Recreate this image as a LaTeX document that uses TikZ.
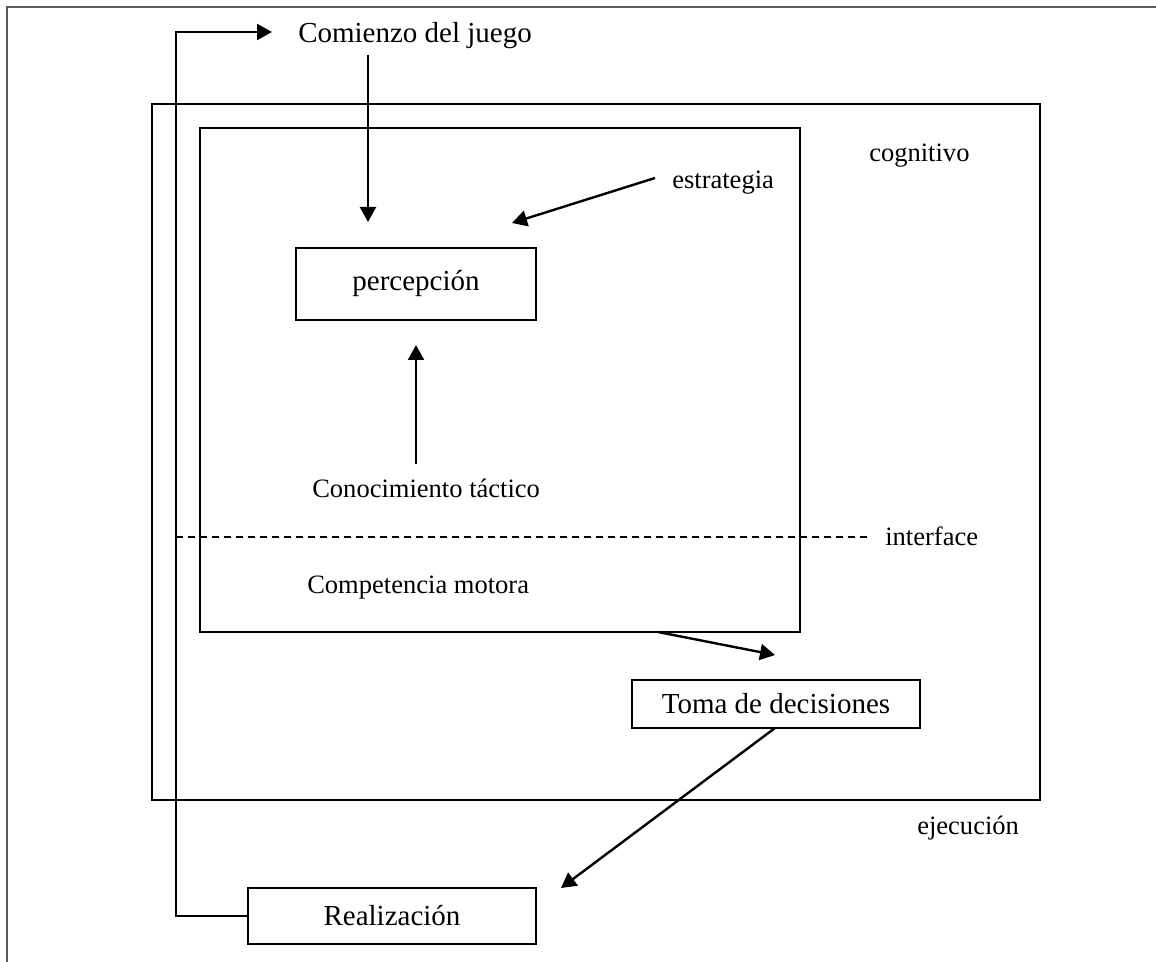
\documentclass[tikz,border=0pt]{standalone}
\usepackage{fontspec}
\setmainfont{Liberation Serif}
\usetikzlibrary{arrows.meta}

\tikzset{
  stroke/.style={line width=1.8pt, black},
  edgeframe/.style={line width=1.5pt, black!65},
  boxnode/.style={draw, line width=1.8pt, inner sep=0pt, font=\fontsize{21.75}{26}\selectfont},
  biglabel/.style={inner sep=0pt, anchor=base west, font=\fontsize{21.75}{26}\selectfont},
  smalllabel/.style={inner sep=0pt, anchor=base west, font=\fontsize{19.9}{24}\selectfont},
  arrowline/.style={stroke, -{Triangle[length=11.25pt,width=12pt]}},
  interfaceline/.style={line width=1.4pt, dash pattern=on 5.25pt off 3.75pt}
}

\begin{document}
\begin{tikzpicture}[x=0.75pt, y=-0.75pt]
  \useasboundingbox (0,0) rectangle (1156,962);

  % page edge lines (top and left)
  \draw[edgeframe] (7,962) -- (7,7) -- (1156,7);

  % nested areas: cognitive/execution box and inner knowledge box
  \node[draw, stroke, inner sep=0pt, minimum width=888*0.75pt, minimum height=696*0.75pt] (outerbox) at (596,452) {};
  \node[draw, stroke, inner sep=0pt, minimum width=600*0.75pt, minimum height=504*0.75pt] (innerbox) at (500,380) {};

  % boxed stages
  \node[boxnode, minimum width=240*0.75pt, minimum height=72*0.75pt] (percep) at (416,284) {percepción};
  \node[boxnode, minimum width=288*0.75pt, minimum height=48*0.75pt] (toma) at (776,704) {Toma de decisiones};
  \node[boxnode, minimum width=288*0.75pt, minimum height=56*0.75pt] (realiz) at (392,916) {Realización};

  % labels
  \node[biglabel] (comienzo) at (298,43) {Comienzo del juego};
  \node[smalllabel] (estrategia) at (672,189) {estrategia};
  \node[smalllabel] (cognitivo) at (869,162) {cognitivo};
  \node[smalllabel] (conoc) at (312,497) {Conocimiento táctico};
  \node[smalllabel] (interface) at (885,545) {interface};
  \node[smalllabel] (compet) at (307,593) {Competencia motora};
  \node[smalllabel] (ejec) at (917,834) {ejecución};

  % connector end points
  \coordinate (fbcorner1) at (176,916);
  \coordinate (fbcorner2) at (176,32);
  \coordinate (fbtip) at (272,32);
  \coordinate (comtop) at (368,55);
  \coordinate (comtip) at (368,222);
  \coordinate (esttail) at (655,178);
  \coordinate (esttip) at (512,223);
  \coordinate (contail) at (416,464);
  \coordinate (contip) at (416,345);
  \coordinate (intstart) at (176,537);
  \coordinate (intend) at (868,537);
  \coordinate (boxout) at (658,632);
  \coordinate (tomatip) at (775,655);
  \coordinate (tomaout) at (775,728);
  \coordinate (realtip) at (561,888);

  % interface between cognitive and motor levels
  \draw[interfaceline] (intstart) -- (intend);

  % arrows
  \draw[arrowline] (realiz.west) -- (fbcorner1) -- (fbcorner2) -- (fbtip);
  \draw[arrowline] (comtop) -- (comtip);
  \draw[arrowline] (esttail) -- (esttip);
  \draw[arrowline] (contail) -- (contip);
  \draw[arrowline] (boxout) -- (tomatip);
  \draw[arrowline] (tomaout) -- (realtip);
\end{tikzpicture}
\end{document}
